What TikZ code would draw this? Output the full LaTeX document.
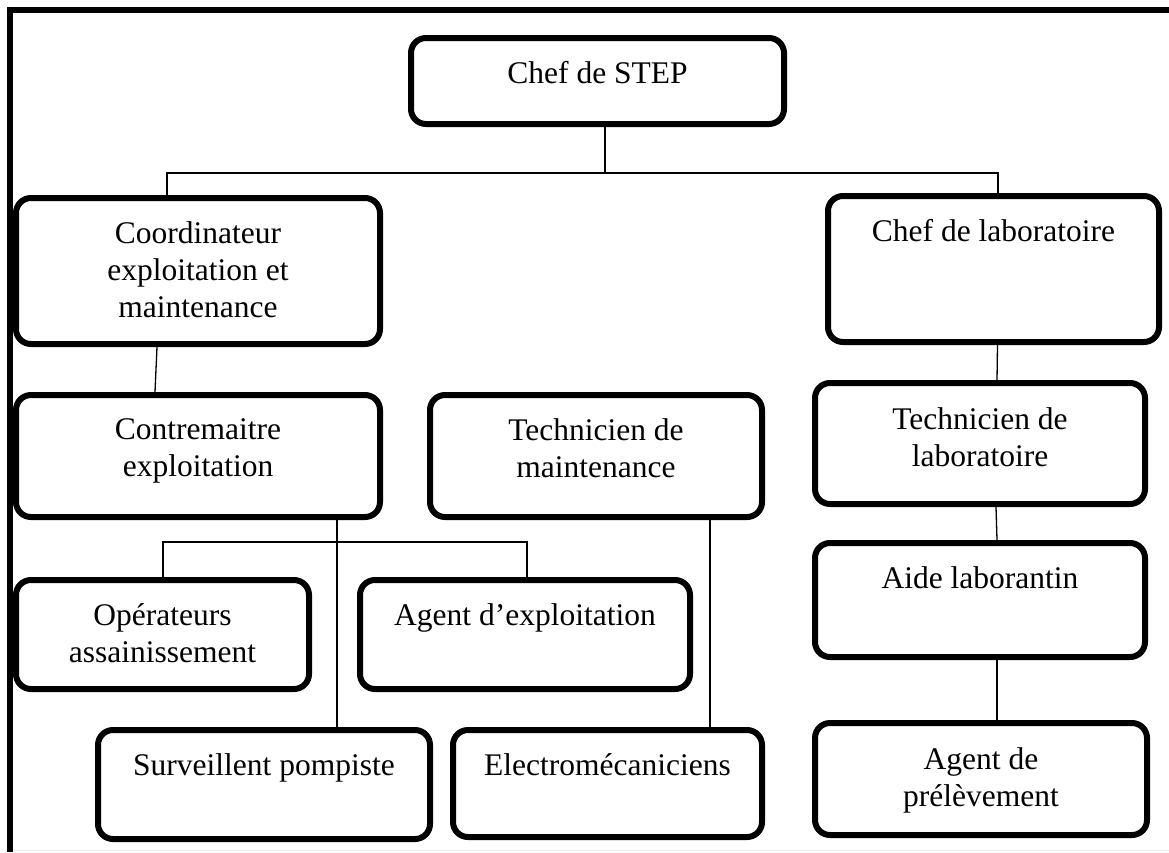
\documentclass[tikz,border=0pt]{standalone}
\usepackage{fontspec}
\setmainfont{Liberation Serif}
\begin{document}
\begin{tikzpicture}[x=1pt,y=-1pt,
  orgbox/.style={draw=black, line width=6pt, rounded corners=15pt, inner sep=0pt, fill=white},
  boxtext/.style={anchor=north, inner sep=0pt, align=center, font=\fontsize{31.5}{37}\selectfont},
  link/.style={draw=black, line width=1.3pt},
  frameline/.style={draw=black, line width=5.5pt, line join=miter}]
\useasboundingbox (0,0) rectangle (1169,852);

% page frame
\draw[gray!15, line width=1pt] (13,850.5) -- (1169,850.5);
\draw[frameline] (10,852) -- (10,10) -- (1169,10);

% boxes
\node[orgbox, minimum width=373pt, minimum height=86pt]  (stepchef)  at (597.5,81)   {};
\node[orgbox, minimum width=364pt, minimum height=146pt] (coord)     at (198,271)    {};
\node[orgbox, minimum width=331pt, minimum height=146pt] (labchef)   at (993.5,269)  {};
\node[orgbox, minimum width=364pt, minimum height=122pt] (contre)    at (198,456)    {};
\node[orgbox, minimum width=332pt, minimum height=122pt] (techmaint) at (596,456)    {};
\node[orgbox, minimum width=330pt, minimum height=121pt] (techlab)   at (980,443.5)  {};
\node[orgbox, minimum width=293pt, minimum height=109pt] (oper)      at (162.5,634.5){};
\node[orgbox, minimum width=330pt, minimum height=109pt] (agentexp)  at (525,634.5)  {};
\node[orgbox, minimum width=330pt, minimum height=114pt] (aide)      at (980,600)    {};
\node[orgbox, minimum width=332pt, minimum height=109pt] (survpomp)  at (264,784.5)  {};
\node[orgbox, minimum width=309pt, minimum height=107pt] (electro)   at (607.5,783.5){};
\node[orgbox, minimum width=332pt, minimum height=112pt] (agentprel) at (981,779)    {};

% box texts, set from the top of each box
\node[boxtext] (stepchef-t)  at ([yshift=-26.5pt]stepchef.north)  {Chef de STEP};
\node[boxtext] (coord-t)     at ([yshift=-26.5pt]coord.north)     {Coordinateur\\exploitation et\\maintenance};
\node[boxtext] (labchef-t)   at ([yshift=-26.5pt]labchef.north)   {Chef de laboratoire};
\node[boxtext] (contre-t)    at ([yshift=-26.5pt]contre.north)    {Contremaitre\\exploitation};
\node[boxtext] (techmaint-t) at ([yshift=-26.5pt]techmaint.north) {Technicien de\\maintenance};
\node[boxtext] (techlab-t)   at ([yshift=-27.5pt]techlab.north)   {Technicien de\\laboratoire};
\node[boxtext] (oper-t)      at ([yshift=-26.5pt]oper.north)      {Opérateurs\\assainissement};
\node[boxtext] (agentexp-t)  at ([yshift=-26.5pt]agentexp.north)  {Agent d’exploitation};
\node[boxtext] (aide-t)      at ([yshift=-26.5pt]aide.north)      {Aide laborantin};
\node[boxtext] (survpomp-t)  at ([yshift=-26.5pt]survpomp.north)  {Surveillent pompiste};
\node[boxtext] (electro-t)   at ([yshift=-26.5pt]electro.north)   {Electromécaniciens};
\node[boxtext] (agentprel-t) at ([yshift=-27.5pt]agentprel.north) {Agent de\\prélèvement};

% connectors
\coordinate (j0) at (605,173);
\coordinate (jL) at (167,173);
\coordinate (jR) at (998,173);
\draw[link] (j0 |- stepchef.south) -- (j0);
\draw[link] (jL |- coord.north) -- (jL) -- (jR) -- (jR |- labchef.north);

\draw[link] ([xshift=-41pt]coord.south) -- ([xshift=-43pt]contre.north);

\coordinate (k1) at (163,542);
\coordinate (k2) at (527,542);
\draw[link] (k1 |- oper.north) -- (k1) -- (k2) -- (k2 |- agentexp.north);

\coordinate (m1) at (337,0);
\draw[link] (m1 |- contre.south) -- (m1 |- survpomp.north);
\coordinate (m2) at (710,0);
\draw[link] (m2 |- techmaint.south) -- (m2 |- electro.north);

\draw[link] ([xshift=4pt]labchef.south) -- ([xshift=17pt]techlab.north);
\draw[link] ([xshift=16pt]techlab.south) -- ([xshift=17pt]aide.north);
\draw[link] ([xshift=17pt]aide.south) -- ([xshift=16pt]agentprel.north);
\end{tikzpicture}
\end{document}
